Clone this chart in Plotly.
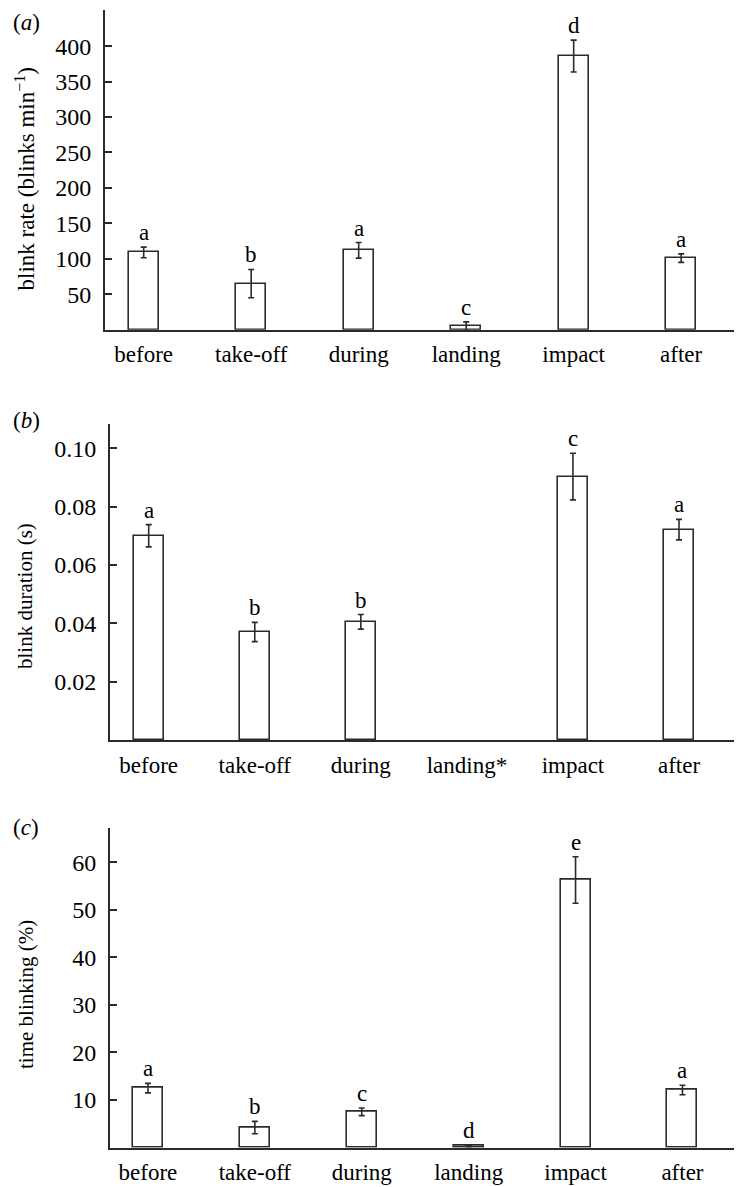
import plotly.graph_objects as go

categories_a = ["before", "take-off", "during", "landing", "impact", "after"]
rate_mean = [109, 65, 112, 5, 386, 101]
rate_err = [7.5, 20, 11, 6, 22.5, 6]
rate_letters = ["a", "b", "a", "c", "d", "a"]

categories_b = ["before", "take-off", "during", "landing*", "impact", "after"]
dur_mean = [0.0700, 0.0370, 0.0405, None, 0.0903, 0.0721]
dur_err = [0.0038, 0.0033, 0.0025, None, 0.0080, 0.0035]
dur_letters = ["a", "b", "b", "", "c", "a"]

categories_c = ["before", "take-off", "during", "landing", "impact", "after"]
time_mean = [12.5, 4.2, 7.5, 0.3, 56.3, 12.1]
time_err = [1.0, 1.3, 0.8, 0.2, 4.9, 1.0]
time_letters = ["a", "b", "c", "d", "e", "a"]

ticks_a = [50, 100, 150, 200, 250, 300, 350, 400]
ticks_b = [0.02, 0.04, 0.06, 0.08, 0.10]
ticks_c = [10, 20, 30, 40, 50, 60]

# the page body has an 8px margin; the figure is placed at (8, 8)
OFF = 8
W, H = 742 - OFF, 1187 - OFF
FONT = "Liberation Serif, Times New Roman, Times, DejaVu Serif, serif"
FS_TICK = 24
FS_TXT = 23
LC = "#2b2b2b"

def px(x):
    return (x - OFF) / W

def py(y):
    return 1 - (y - OFF) / H

fig = go.Figure()

panels = [
    dict(cats=categories_a, m=rate_mean, e=rate_err, L=rate_letters, ticks=ticks_a,
         fmt="", yr=[0, 451], xr=[-0.36, 5.566], xd=[px(105), 1], yd=[py(329.7), py(10)],
         title="blink rate (blinks min<sup>−1</sup>)", tfs=23, tx=25, ty=(62 + 297) / 2,
         lab="(<i>a</i>)", ly=8),
    dict(cats=categories_b, m=dur_mean, e=dur_err, L=dur_letters, ticks=ticks_b,
         fmt=".2f", yr=[0, 0.1083], xr=[-0.365, 5.594], xd=[px(110), 1], yd=[py(740), py(424)],
         title="blink duration (s)", tfs=21, tx=25, ty=596,
         lab="(<i>b</i>)", ly=406),
    dict(cats=categories_c, m=time_mean, e=time_err, L=time_letters, ticks=ticks_c,
         fmt="", yr=[0, 67.3], xr=[-0.355, 5.557], xd=[px(110), 1], yd=[py(1147.5), py(827.7)],
         title="time blinking (%)", tfs=21, tx=26, ty=995,
         lab="(<i>c</i>)", ly=813),
]

for i, p in enumerate(panels):
    n = "" if i == 0 else str(i + 1)
    xa, ya = "x" + n, "y" + n
    fig.add_trace(go.Bar(
        x=list(range(len(p["cats"]))), y=p["m"], width=0.28,
        marker=dict(color="white", line=dict(color=LC, width=1.6)),
        error_y=dict(type="data", array=p["e"], visible=True, color=LC, thickness=1.6, width=3),
        xaxis=xa, yaxis=ya, showlegend=False, hoverinfo="skip"))
    for j, (m, e, t) in enumerate(zip(p["m"], p["e"], p["L"])):
        if m is None or not t:
            continue
        fig.add_annotation(x=j, y=m + e, xref=xa, yref=ya, text=t, showarrow=False,
                           yanchor="bottom", xanchor="center", yshift=0,
                           font=dict(family=FONT, size=FS_TXT, color="black"))
    fig.add_annotation(x=px(p["tx"]), y=py(p["ty"]), xref="paper", yref="paper",
                       text=p["title"], textangle=-90, showarrow=False,
                       xanchor="center", yanchor="middle",
                       font=dict(family=FONT, size=p["tfs"], color="black"))
    fig.add_annotation(x=px(11), y=py(p["ly"]), xref="paper", yref="paper",
                       text=p["lab"], showarrow=False, xanchor="left", yanchor="top",
                       font=dict(family=FONT, size=FS_TXT, color="black"))
    xkey = "xaxis" + n
    ykey = "yaxis" + n
    fig.update_layout(**{
        xkey: dict(domain=p["xd"], range=p["xr"], anchor=ya, tickmode="array",
                   tickvals=list(range(len(p["cats"]))), ticktext=p["cats"],
                   ticks="", showline=True, linecolor=LC, linewidth=1.8,
                   showgrid=False, zeroline=False, ticklabelstandoff=3,
                   tickfont=dict(family=FONT, size=FS_TXT, color="black")),
        ykey: dict(domain=p["yd"], range=p["yr"], anchor=xa, tickmode="array",
                   tickvals=p["ticks"], tickformat=p["fmt"], ticks="inside", ticklen=7,
                   tickwidth=1.6, tickcolor=LC, showline=True, linecolor=LC, linewidth=1.8,
                   showgrid=False, zeroline=False, ticklabelstandoff=7,
                   tickfont=dict(family=FONT, size=FS_TICK, color="black")),
    })

fig.update_layout(width=W, height=H, margin=dict(l=0, r=0, t=0, b=0),
                  paper_bgcolor="white", plot_bgcolor="white", bargap=0)
fig.write_html("out.html")
